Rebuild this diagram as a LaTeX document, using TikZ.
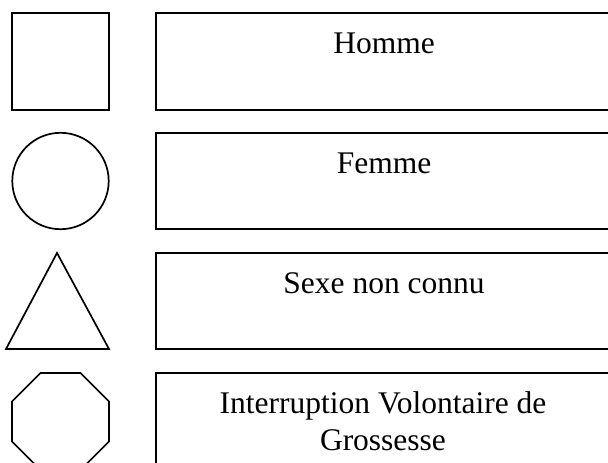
\documentclass[tikz,border=0pt]{standalone}
\usepackage{fontspec}
\setmainfont{Liberation Serif}
\begin{document}
\begin{tikzpicture}[x=1pt,y=-1pt,
  shp/.style={draw=black,line width=1.7pt},
  lbl/.style={font=\fontsize{31.5}{37}\selectfont,inner sep=0pt,align=center,anchor=base}]
\useasboundingbox (0,0) rectangle (608,463);
\clip (0,0) rectangle (608,463);
% symbols
\draw[shp] (12,13) rectangle (109,110);
\draw[shp] (60.5,181) circle[radius=48.2];
\draw[shp] (57,253) -- (109,349) -- (6,349) -- cycle;
\draw[shp] (40.5,373) -- (80.5,373) -- (109,401.5) -- (109,441.5) -- (80.5,470) -- (40.5,470) -- (12,441.5) -- (12,401.5) -- cycle;
% boxes
\draw[shp] (156,13) rectangle (614,110);
\draw[shp] (156,133) rectangle (614,229);
\draw[shp] (156,253) rectangle (614,349);
\draw[shp] (156,373) rectangle (614,475);
% labels
\node[lbl] (homme) at (384,53) {Homme};
\node[lbl] (femme) at (384,173) {Femme};
\node[lbl] (sexe) at (384,293) {Sexe non connu};
\node[lbl] (ivg) at (383,450) {Interruption Volontaire de\\Grossesse};
\end{tikzpicture}
\end{document}
